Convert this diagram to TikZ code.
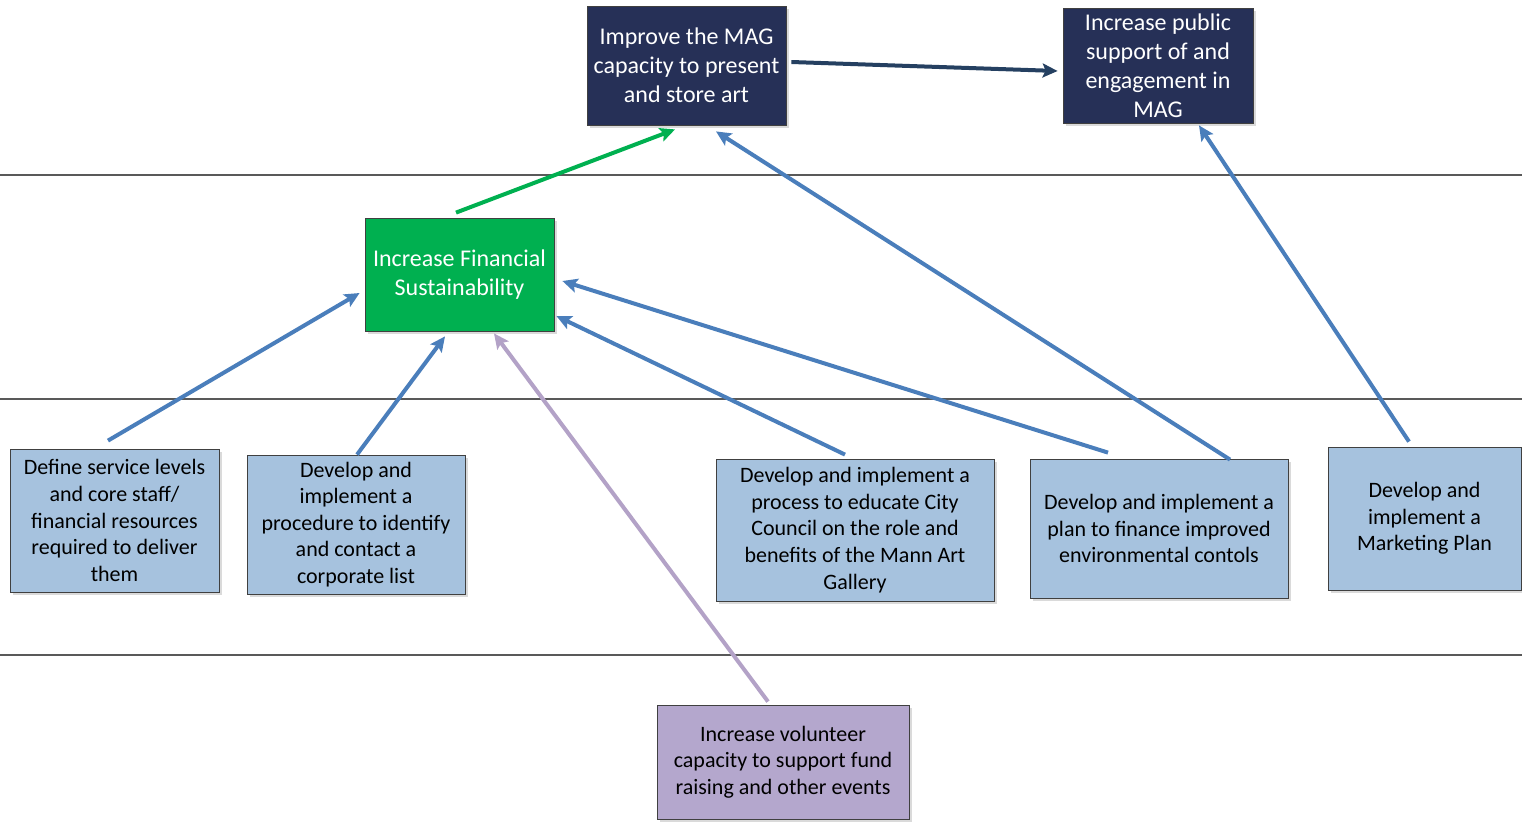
\documentclass[tikz,border=0pt]{standalone}
\usepackage{fontspec}
\setmainfont{Carlito}
\usetikzlibrary{arrows.meta,shadows}

\definecolor{navy}{HTML}{263057}
\definecolor{fingreen}{HTML}{00B050}
\definecolor{stepblue}{HTML}{A6C2DE}
\definecolor{steppurple}{HTML}{B4A7CD}
\definecolor{arrblue}{HTML}{4A7EBB}
\definecolor{arrpurple}{HTML}{B3A2C7}
\definecolor{arrnavy}{HTML}{254061}
\definecolor{boxline}{HTML}{404040}
\definecolor{rule}{HTML}{595959}

\tikzset{
  box/.style={draw=boxline, line width=0.8pt, align=center, inner sep=2pt,
    drop shadow={shadow xshift=3pt, shadow yshift=-3pt, fill=black!18, opacity=0.8}},
  topbox/.style={box, fill=navy, text=white, font=\fontsize{24}{29}\selectfont},
  goalbox/.style={box, fill=fingreen, text=white, font=\fontsize{24}{29}\selectfont},
  actbox/.style={box, fill=stepblue, text=black, font=\fontsize{22}{26.6}\selectfont},
  volbox/.style={box, fill=steppurple, text=black, font=\fontsize{22}{26.6}\selectfont},
  link/.style={line width=4pt, -{Stealth[length=15pt,width=14pt,inset=3pt]}},
  bluelink/.style={link, draw=arrblue, fill=arrblue},
  divider/.style={draw=rule, line width=1.4pt}
}

\begin{document}
\begin{tikzpicture}[x=1pt, y=-1pt]
  \useasboundingbox (0,0) rectangle (1522,822);

  % level dividers
  \draw[divider] (0,175) -- (1522,175);
  \draw[divider] (0,399) -- (1522,399);
  \draw[divider] (0,655) -- (1522,655);

  % top-level outcomes
  \node[topbox, minimum width=199pt, minimum height=119pt] (mag) at (686.5,65.5)
    {Improve the MAG\\capacity to present\\and store art};
  \node[topbox, minimum width=190pt, minimum height=115pt] (pub) at (1158,65.5)
    {Increase public\\support of and\\engagement in\\MAG};

  % intermediate outcome
  \node[goalbox, minimum width=189pt, minimum height=113pt] (fin) at (459.5,274.5)
    {Increase Financial\\Sustainability};

  % actions
  \node[actbox, minimum width=209pt, minimum height=143pt] (def) at (114.5,520.5)
    {Define service levels\\and core staff/\\financial resources\\required to deliver\\them};
  \node[actbox, minimum width=218pt, minimum height=139pt] (proc) at (356,524.5)
    {Develop and\\implement a\\procedure to identify\\and contact a\\corporate list};
  \node[actbox, minimum width=278pt, minimum height=142pt] (edu) at (855,530)
    {Develop and implement a\\process to educate City\\Council on the role and\\benefits of the Mann Art\\Gallery};
  \node[actbox, minimum width=258pt, minimum height=139pt] (plan) at (1159,528.5)
    {Develop and implement a\\plan to finance improved\\environmental contols};
  \node[actbox, minimum width=193pt, minimum height=143pt] (mkt) at (1424.5,518.5)
    {Develop and\\implement a\\Marketing Plan};

  % supporting action
  \node[volbox, minimum width=252pt, minimum height=114pt] (vol) at (783,762)
    {Increase volunteer\\capacity to support fund\\raising and other events};

  % connectors
  \draw[link, draw=arrnavy, fill=arrnavy]
    ([xshift=5pt,yshift=3.5pt]mag.east) -- ([xshift=-5pt,yshift=-5.5pt]pub.west);
  \draw[link, draw=fingreen, fill=fingreen]
    ([xshift=-3.5pt,yshift=5pt]fin.north) -- ([xshift=-11.5pt,yshift=-4pt]mag.south);
  \draw[bluelink]
    ([xshift=-6.5pt,yshift=8pt]def.north) -- ([xshift=-5pt,yshift=-18.5pt]fin.west);
  \draw[bluelink]
    ([xshift=1pt]proc.north) -- ([xshift=-14.5pt,yshift=-5pt]fin.south);
  \draw[link, draw=arrpurple, fill=arrpurple]
    ([xshift=-15pt,yshift=3pt]vol.north) -- ([xshift=34.5pt,yshift=-2pt]fin.south);
  \draw[bluelink]
    ([xshift=-10pt,yshift=4pt]edu.north) -- ([xshift=2pt,yshift=-41.5pt]fin.east);
  \draw[bluelink]
    ([xshift=-51pt,yshift=6pt]plan.north) -- ([xshift=8pt,yshift=-6.5pt]fin.east);
  \draw[bluelink]
    ([xshift=71pt,yshift=-1pt]plan.north) -- ([xshift=29.5pt,yshift=-6pt]mag.south);
  \draw[bluelink]
    ([xshift=-15.5pt,yshift=5pt]mkt.north) -- ([xshift=41pt,yshift=-2pt]pub.south);
\end{tikzpicture}
\end{document}
